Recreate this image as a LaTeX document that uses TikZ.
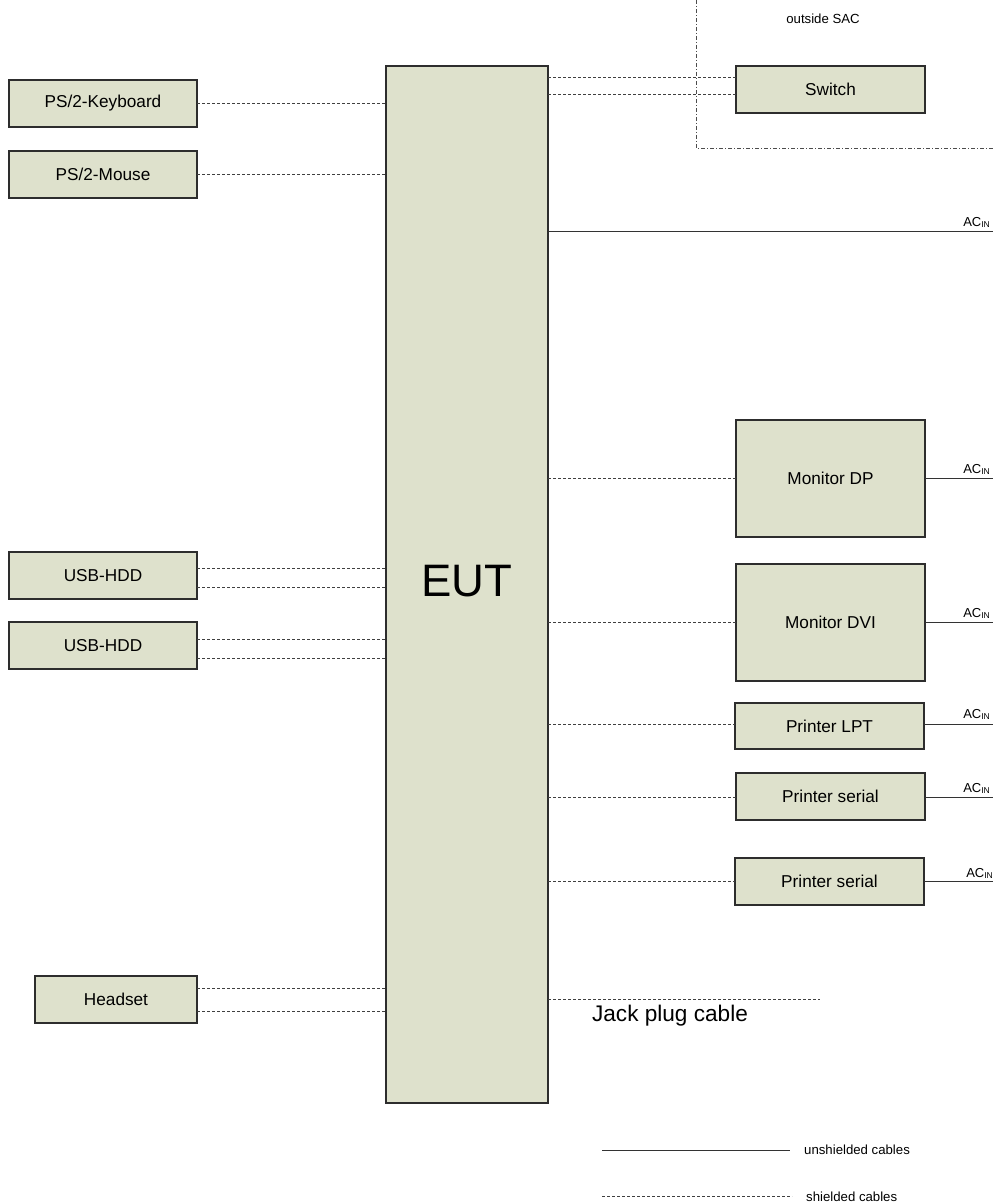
\documentclass[tikz,border=0pt]{standalone}
\usepackage{fontspec}
\setmainfont{Liberation Sans}
\definecolor{boxfill}{RGB}{222,225,204}
\definecolor{boxline}{RGB}{45,45,45}
\newcommand\acinlabel{AC\raisebox{-1.8pt}{\fontsize{8.5}{9}\selectfont IN}}
\begin{document}
\begin{tikzpicture}[x=1pt,y=-1pt,
  box/.style={draw=boxline, fill=boxfill, line width=1.3pt, inner sep=0pt, outer sep=0pt, font=\fontsize{17.2}{20}\selectfont},
  shield/.style={draw=black!75, line width=0.9pt, dash pattern=on 3pt off 2pt},
  unshield/.style={draw=black!80, line width=1pt},
  sacborder/.style={draw=black!70, line width=0.9pt, dash pattern=on 4pt off 2pt on 1pt off 2pt},
  aclab/.style={anchor=south east, inner sep=0pt, font=\fontsize{13}{14}\selectfont},
  small/.style={inner sep=0pt, font=\fontsize{13.2}{15}\selectfont}]
\useasboundingbox (0,0) rectangle (993,1204);

% nodes
\node[box, minimum width=162, minimum height=1037] (eut) at (467,584.5) {};
\node[inner sep=0pt, font=\fontsize{45.5}{50}\selectfont] (euttext) at (467,581) {EUT};
\node[box, minimum width=188, minimum height=47] (kb) at (103,103.5) {PS/2-Keyboard};
\node[box, minimum width=188, minimum height=47] (mouse) at (103,174.5) {PS/2-Mouse};
\node[box, minimum width=188, minimum height=47] (usb1) at (103,575.5) {USB-HDD};
\node[box, minimum width=188, minimum height=47] (usb2) at (103,645.5) {USB-HDD};
\node[box, minimum width=162, minimum height=47] (head) at (116,999.5) {Headset};
\node[box, minimum width=189, minimum height=47] (switch) at (830.5,89.5) {Switch};
\node[box, minimum width=189, minimum height=117] (mondp) at (830.5,478.5) {Monitor DP};
\node[box, minimum width=189, minimum height=117] (mondvi) at (830.5,622.5) {Monitor DVI};
\node[box, minimum width=189, minimum height=46] (lpt) at (829.5,726) {Printer LPT};
\node[box, minimum width=189, minimum height=47] (ser1) at (830.5,796.5) {Printer serial};
\node[box, minimum width=189, minimum height=47] (ser2) at (829.5,881.5) {Printer serial};

% SAC border
\coordinate (sactop) at (696,0);
\coordinate (saccorner) at (696,148);
\coordinate (sacend) at (993,148);
\draw[sacborder] (sactop) -- (saccorner) -- (sacend);
\node[small] (sac) at (823,19) {outside SAC};

% left connectors
\draw[shield] (kb.east) -- (kb.east -| eut.west);
\draw[shield] (mouse.east) -- (mouse.east -| eut.west);
\draw[shield] (usb1.east |- 0,568) -- (eut.west |- 0,568);
\draw[shield] (usb1.east |- 0,587) -- (eut.west |- 0,587);
\draw[shield] (usb2.east |- 0,639) -- (eut.west |- 0,639);
\draw[shield] (usb2.east |- 0,658) -- (eut.west |- 0,658);
\draw[shield] (head.east |- 0,988) -- (eut.west |- 0,988);
\draw[shield] (head.east |- 0,1011) -- (eut.west |- 0,1011);

% right connectors
\draw[shield] (eut.east |- 0,77) -- (switch.west |- 0,77);
\draw[shield] (eut.east |- 0,94) -- (switch.west |- 0,94);

\coordinate (ac0) at (993,231);
\draw[unshield] (eut.east |- ac0) -- (ac0);
\node[aclab] (acl0) at (990,228) {\acinlabel};

\draw[shield] (eut.east |- mondp.west) -- (mondp.west);
\coordinate (ac1) at (993,478);
\draw[unshield] (mondp.east |- ac1) -- (ac1);
\node[aclab] (acl1) at (990,475) {\acinlabel};

\draw[shield] (eut.east |- mondvi.west) -- (mondvi.west);
\coordinate (ac2) at (993,622);
\draw[unshield] (mondvi.east |- ac2) -- (ac2);
\node[aclab] (acl2) at (990,619) {\acinlabel};

\draw[shield] (eut.east |- 0,724) -- (lpt.west |- 0,724);
\coordinate (ac3) at (993,724);
\draw[unshield] (lpt.east |- ac3) -- (ac3);
\node[aclab] (acl3) at (990,720) {\acinlabel};

\draw[shield] (eut.east |- 0,797) -- (ser1.west |- 0,797);
\coordinate (ac4) at (993,797);
\draw[unshield] (ser1.east |- ac4) -- (ac4);
\node[aclab] (acl4) at (990,794) {\acinlabel};

\draw[shield] (eut.east |- 0,881) -- (ser2.west |- 0,881);
\coordinate (ac5) at (993,881);
\draw[unshield] (ser2.east |- ac5) -- (ac5);
\node[aclab] (acl5) at (993,879) {\acinlabel};

% jack plug
\coordinate (jackend) at (820,999);
\draw[shield] (eut.east |- jackend) -- (jackend);
\node[inner sep=0pt, font=\fontsize{22.6}{25}\selectfont] (jacklab) at (670,1015.5) {Jack plug cable};

% legend
\coordinate (l1a) at (602,1150);
\coordinate (l1b) at (790,1150);
\draw[unshield] (l1a) -- (l1b);
\node[small, anchor=west] (l1t) at (804,1150) {unshielded cables};
\coordinate (l2a) at (602,1196);
\coordinate (l2b) at (792,1196);
\draw[shield] (l2a) -- (l2b);
\node[small, anchor=west] (l2t) at (806,1197) {shielded cables};
\end{tikzpicture}
\end{document}
